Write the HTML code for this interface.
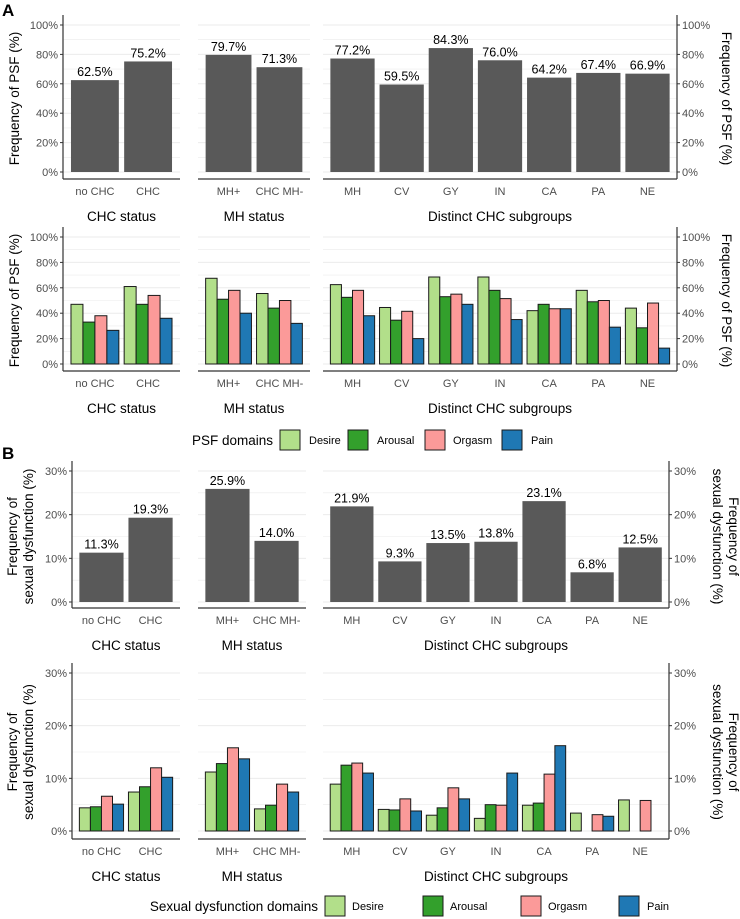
<!DOCTYPE html>
<html><head><meta charset="utf-8">
<style>
html,body{margin:0;padding:0;background:#fff;}
svg{display:block;font-family:"Liberation Sans",Arial,sans-serif;}
</style></head>
<body>
<svg id="chart" width="740" height="919" viewBox="0 0 740 919" xmlns="http://www.w3.org/2000/svg">
<text x="2" y="16" font-size="17" font-weight="bold">A</text>
<text x="2" y="459" font-size="17" font-weight="bold">B</text>
</svg>
<script>
const categories = [["no CHC","CHC"],["MH+","CHC MH-"],["MH","CV","GY","IN","CA","PA","NE"]];
const panelNames = ["CHC status","MH status","Distinct CHC subgroups"];
const domainNames = ["Desire","Arousal","Orgasm","Pain"];
const psfTotal = [62.5,75.2,79.7,71.3,77.2,59.5,84.3,76.0,64.2,67.4,66.9];
const psfDesire = [47,61,67.5,55.5,62.5,44.5,68.5,68.5,42,58,44];
const psfArousal = [33,47,51,44,52.5,34.5,53,58,47,49,28.5];
const psfOrgasm = [38,54,58,50,58,41.5,55,51.5,43.5,50,48];
const psfPain = [26.5,36,40,32,38,20,47,35,43.5,29,12.5];
const sdTotal = [11.3,19.3,25.9,14.0,21.9,9.3,13.5,13.8,23.1,6.8,12.5];
const sdDesire = [4.4,7.4,11.2,4.2,8.9,4.1,3.0,2.4,4.9,3.4,5.9];
const sdArousal = [4.6,8.4,12.8,4.9,12.5,4.0,4.4,5.0,5.3,0,0];
const sdOrgasm = [6.6,12.0,15.8,8.9,12.9,6.1,8.2,4.9,10.8,3.1,5.8];
const sdPain = [5.1,10.2,13.7,7.4,11.0,3.8,6.1,11.0,16.2,2.8,0];
const psfTicks = [0,20,40,60,80,100];
const sdTicks = [0,10,20,30];

const NS = "http://www.w3.org/2000/svg";
const svg = document.getElementById("chart");
const colors = ["#b2df8a","#33a02c","#fb9a99","#1f78b4"];
function mk(tag, attrs, parent){
  const e = document.createElementNS(NS, tag);
  for (const k in attrs) e.setAttribute(k, attrs[k]);
  (parent||svg).appendChild(e);
  return e;
}
function txt(s, attrs, parent){ const e = mk("text", attrs, parent); e.textContent = s; return e; }

function drawRow(cfg){
  const g = mk("g", {});
  
  
  const y = v => cfg.y0 - (v / cfg.max) * (cfg.y0 - cfg.yTop);
  const step = cfg.ticks[1] - cfg.ticks[0];
  let idx = 0;
  cfg.panels.forEach((p, pi) => {
    const cats = categories[pi];
    const unit = (p[1] - p[0]) / (cats.length + 0.2);
    const xc = i => p[0] + unit * (0.6 + i);
    for (let v = 0; v <= cfg.max + 1e-6; v += step / 2) {
      const gl = mk("line", {x1:p[0], x2:p[1], y1:y(v), y2:y(v), stroke:"#ebebeb", "stroke-width": (Math.abs(v / step - Math.round(v / step)) < 1e-6) ? 1 : 0.6}, g);
      
      
    }
    cats.forEach((c, i) => {
      const k = idx + i;
      if (cfg.total) {
        const v = cfg.total[k];
        const r = mk("rect", {x: xc(i) - 0.45 * unit, y: y(v), width: 0.9 * unit, height: y(0) - y(v), fill:"#595959"}, g);
        
        
        const t = txt(v.toFixed(1) + "%", {x: xc(i), y: y(v) - 4, "font-size": 12.5, "text-anchor":"middle", fill:"#000"}, g);
        
        
      } else {
        cfg.series.forEach((s, j) => {
          const v = s[k];
          const bx = xc(i) - 0.45 * unit + j * 0.225 * unit;
          const r = mk("rect", {x: bx, y: y(v), width: 0.225 * unit, height: y(0) - y(v), fill: colors[j], stroke: v > 0 ? "#1a1a1a" : "none", "stroke-width": 1}, g);
          
          
        });
      }
      const tl = txt(c, {x: xc(i), y: cfg.axisY + 16, "font-size": 11, "text-anchor":"middle", fill:"#4d4d4d"}, g);
      
      
    });
    idx += cats.length;
    const ax = mk("line", {x1:p[0], x2:p[1], y1:cfg.axisY, y2:cfg.axisY, stroke:"#333", "stroke-width":1.2}, g);
    
    
    const st = txt(panelNames[pi], {x:(p[0]+p[1])/2, y: cfg.axisY + 42, "font-size": 13.5, "text-anchor":"middle", fill:"#000"}, g);
    
    
  });
  const L = cfg.panels[0][0], R = cfg.panels[2][1];
  const top = cfg.yTop - 10;
  const la = mk("line", {x1:L, x2:L, y1:top, y2:cfg.axisY, stroke:"#333", "stroke-width":1.2}, g);
  
  
  const ra = mk("line", {x1:R, x2:R, y1:top, y2:cfg.axisY, stroke:"#333", "stroke-width":1.2}, g);
  
  
  cfg.ticks.forEach(v => {
    mk("line", {x1:L-3, x2:L, y1:y(v), y2:y(v), stroke:"#333"}, g);
    mk("line", {x1:R, x2:R+3, y1:y(v), y2:y(v), stroke:"#333"}, g);
    const a = txt(v + "%", {x:L-5, y:y(v)+4, "font-size":11, "text-anchor":"end", fill:"#4d4d4d"}, g);
    
    
    const b = txt(v + "%", {x:R+5, y:y(v)+4, "font-size":11, "text-anchor":"start", fill:"#4d4d4d"}, g);
    
    
  });
  const cy = (cfg.yTop + cfg.y0) / 2;
  const n = cfg.title.length;
  cfg.title.forEach((line, li) => {
    const lx = n === 2 ? 17 + li * 16 : 19;
    const t = txt(line, {x:0, y:0, "font-size":13.5, "text-anchor":"middle", fill:"#000", transform:`translate(${lx},${cy}) rotate(-90)`}, g);
    
    
    const rx = n === 2 ? 729 - li * 16 : 722;
    const t2 = txt(line, {x:0, y:0, "font-size":13.5, "text-anchor":"middle", fill:"#000", transform:`translate(${rx},${cy}) rotate(90)`}, g);
    
    
  });
}

function legend(title, y, titleEnd, keys, texts, name){
  const g = mk("g", {});
  
  
  const t = txt(title, {x:titleEnd, y:y+15, "font-size":13.5, "text-anchor":"end", fill:"#000"}, g);
  
  
  domainNames.forEach((d, j) => {
    const r = mk("rect", {x:keys[j], y:y, width:20, height:20, fill:colors[j], stroke:"#1a1a1a", "stroke-width":1}, g);
    
    
    const l = txt(d, {x:texts[j], y:y+14, "font-size":11, fill:"#000"}, g);
    
    
  });
}

drawRow({name:"psf-total-row", y0:172, yTop:25, max:100, ticks:psfTicks, axisY:179,
  panels:[[63,180],[198,310],[323,677]], total:psfTotal, title:["Frequency of PSF (%)"]});
drawRow({name:"psf-domain-row", y0:364, yTop:237, max:100, ticks:psfTicks, axisY:371,
  panels:[[63,180],[198,310],[323,677]], series:[psfDesire,psfArousal,psfOrgasm,psfPain], title:["Frequency of PSF (%)"]});
legend("PSF domains", 430, 273, [280,348,425,502], [309,377,453,531], "psf-legend");
drawRow({name:"sd-total-row", y0:602, yTop:471, max:30, ticks:sdTicks, axisY:608,
  panels:[[72,180],[198,306],[323,669]], total:sdTotal, title:["Frequency of","sexual dysfunction (%)"]});
drawRow({name:"sd-domain-row", y0:831, yTop:673, max:30, ticks:sdTicks, axisY:839,
  panels:[[72,180],[198,306],[323,669]], series:[sdDesire,sdArousal,sdOrgasm,sdPain], title:["Frequency of","sexual dysfunction (%)"]});
legend("Sexual dysfunction domains", 896, 318, [325,423,521,619], [352,450,548,647], "sd-legend");
</script>
</body></html>
